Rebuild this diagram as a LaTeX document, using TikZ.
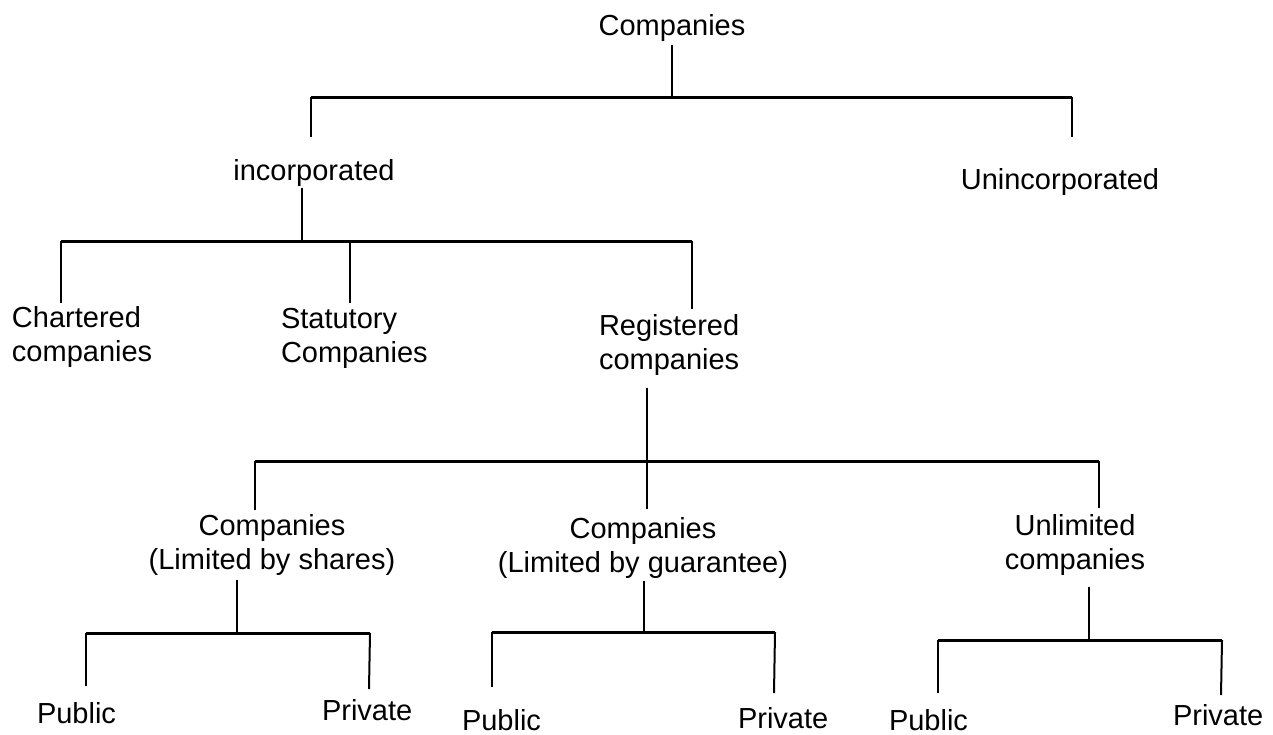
\documentclass[tikz,border=0pt]{standalone}
\usepackage{fontspec}
\setmainfont{Liberation Sans}
\usepackage{tikz}
\usetikzlibrary{calc,positioning}
\tikzstyle{bar} =[line width=3pt]
\tikzstyle{stem}=[line width=2pt]
\tikzstyle{txt} =[inner sep=0pt, outer sep=0pt,
                  font=\fontsize{29}{34.5}\selectfont]

\begin{document}
\begin{tikzpicture}[x=1pt,y=-1pt]
    \useasboundingbox (0,0) rectangle (1273,734);

        % labels
        \draw (672,35) node(root)[txt,anchor=base]{Companies};
        \draw (314,180) node(incorp)[txt,anchor=base]{incorporated};
        \draw (1060,189) node(unincorp)[txt,anchor=base]{Unincorporated};
        \draw (12,306) node(chart)[txt,anchor=north west,align=left]{Chartered\\companies};
        \draw (281,308) node(stat)[txt,anchor=north west,align=left]{Statutory\\Companies};
        \draw (599,314) node(regis)[txt,anchor=north west,align=left]{Registered\\companies};
        \draw (272,514) node(shares)[txt,anchor=north,align=center]{Companies\\(Limited by shares)};
        \draw (643,517) node(guar)[txt,anchor=north,align=center]{Companies\\(Limited by guarantee)};
        \draw (1075,514) node(unlim)[txt,anchor=north,align=center]{Unlimited\\companies};
        \draw (37,723) node(pubA)[txt,anchor=base west]{Public};
        \draw (322,720) node(priA)[txt,anchor=base west]{Private};
        \draw (462,730) node(pubB)[txt,anchor=base west]{Public};
        \draw (738,728) node(priB)[txt,anchor=base west]{Private};
        \draw (889,730) node(pubC)[txt,anchor=base west]{Public};
        \draw (1173,725) node(priC)[txt,anchor=base west]{Private};

        % bar points and drop ends
        \coordinate (b1c) at (672,97);  \coordinate (b1l) at (311,97);  \coordinate (b1r) at (1072,97);
        \coordinate (d1l) at (311,137); \coordinate (d1r) at (1072,137);
        \coordinate (b2c) at (302,241); \coordinate (b2l) at (61,241);  \coordinate (b2r) at (692,241);
        \coordinate (b2m) at (350,241);
        \coordinate (d2l) at (61,303);  \coordinate (d2m) at (350,303); \coordinate (d2r) at (692,309);
        \coordinate (b3c) at (647,461); \coordinate (b3l) at (255,461); \coordinate (b3r) at (1099,461);
        \coordinate (d3l) at (255,510); \coordinate (d3m) at (647,509); \coordinate (d3r) at (1099,508);
        \coordinate (b4ac) at (237,633); \coordinate (b4al) at (86,633);  \coordinate (b4ar) at (370,633);
        \coordinate (d4al) at (86,686);  \coordinate (d4ar) at (369,689);
        \coordinate (b4bc) at (644,632); \coordinate (b4bl) at (492,632); \coordinate (b4br) at (775,632);
        \coordinate (d4bl) at (492,687); \coordinate (d4br) at (774,693);
        \coordinate (b4cc) at (1089,640); \coordinate (b4cl) at (938,640); \coordinate (b4cr) at (1222,640);
        \coordinate (d4cl) at (938,693);  \coordinate (d4cr) at (1221,695);

        % stems from the parent labels
        \draw [stem,shorten <=4pt] (root.south -| b1c) -- (b1c);
        \draw [stem,shorten <=2pt] (incorp.south -| b2c) -- (b2c);
        \draw [stem,shorten <=12pt] (regis.south -| b3c) -- (b3c);
        \draw [stem,shorten <=4pt] (shares.south -| b4ac) -- (b4ac);
        \draw [stem,shorten <=2pt] (guar.south -| b4bc) -- (b4bc);
        \draw [stem,shorten <=11pt] (unlim.south -| b4cc) -- (b4cc);

        % bars
        \foreach \i/\j in {b1l/b1r,b2l/b2r,b3l/b3r,b4al/b4ar,b4bl/b4br,b4cl/b4cr}
            \draw [bar] (\i) -- (\j);

        % drops
        \foreach \i/\j in {b1l/d1l,b1r/d1r,b2l/d2l,b2m/d2m,b2r/d2r,b3l/d3l,b3c/d3m,
        b3r/d3r,b4al/d4al,b4ar/d4ar,b4bl/d4bl,b4br/d4br,b4cl/d4cl,b4cr/d4cr}
            \draw [stem] (\i) -- (\j);

\end{tikzpicture}
\end{document}
